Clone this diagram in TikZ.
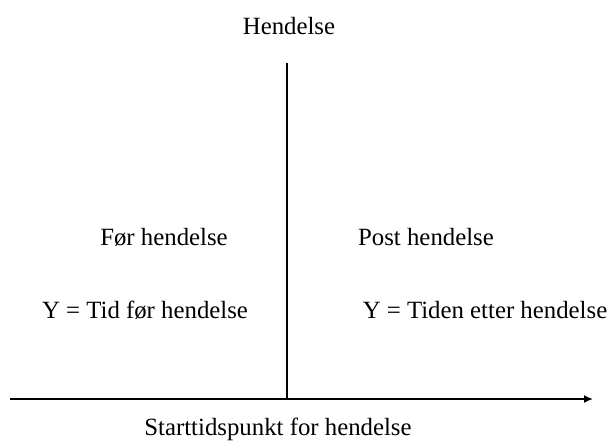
\documentclass[tikz,border=0pt]{standalone}
\usepackage{fontspec}
\setmainfont{Liberation Serif}
\usetikzlibrary{arrows.meta}

\begin{document}
\begin{tikzpicture}[x=0.5pt, y=-0.5pt, txt/.style = {anchor=base, inner sep=0pt, font=\fontsize{12.4}{15}\selectfont}, axis/.style = {line width=0.8pt}]
	\useasboundingbox (0,0) rectangle (608,440);
	\coordinate (start) at (10,399);
	\coordinate (end) at (593,399);
	\coordinate (top) at (287,63);
	\coordinate (base) at (287,399);
	\draw[axis, -{Latex[length=4.5pt,width=4pt]}] (start) -- (end);
	\draw[axis] (top) -- (base);
	\node[txt] (event) at (289,34) {Hendelse};
	\node[txt] (before) at (164,245) {Før hendelse};
	\node[txt] (after) at (426,245) {Post hendelse};
	\node[txt] (ybefore) at (145,318) {Y = Tid før hendelse};
	\node[txt] (yafter) at (485,318) {Y = Tiden etter hendelse};
	\node[txt] (starttime) at (278,435) {Starttidspunkt for hendelse};
\end{tikzpicture}
\end{document}
